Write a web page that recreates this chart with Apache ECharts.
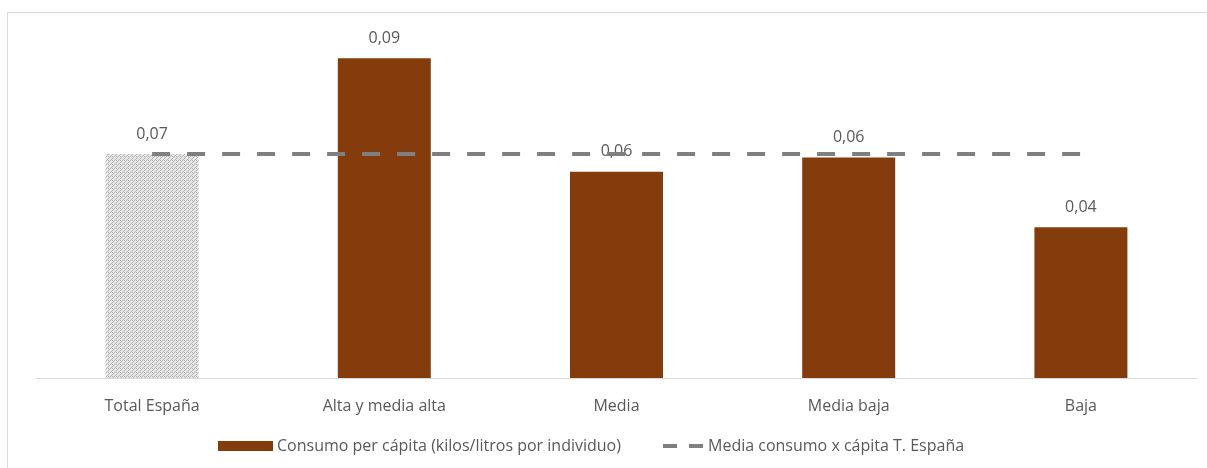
<!DOCTYPE html>
<html><head><meta charset="utf-8">
<script src="https://cdn.jsdelivr.net/npm/echarts@6/dist/echarts.min.js"></script>
<style>html,body{margin:0;padding:0;background:#fff}#c{width:1207px;height:468px}</style>
</head><body><div id="c"></div>
<script>
const categories = ['Total España', 'Alta y media alta', 'Media', 'Media baja', 'Baja'];
const consumo = [0.0655, 0.0935, 0.0603, 0.0645, 0.0441];
const mediaEspana = [0.0655, 0.0655, 0.0655, 0.0655, 0.0655];
const seriesNames = ['Consumo per cápita (kilos/litros por individuo)', 'Media consumo x cápita T. España'];

const FONT = '"Open Sans", "Liberation Sans", sans-serif';
function makePattern() {
  const c = document.createElement('canvas');
  c.width = 4; c.height = 4;
  const g = c.getContext('2d');
  g.fillStyle = '#e6e6e6'; g.fillRect(0, 0, 4, 4);
  g.fillStyle = '#b5b5b5';
  g.fillRect(0, 0, 1, 1);
  g.fillRect(2, 0, 1, 1);
  g.fillRect(0, 2, 1, 1);
  g.fillRect(1, 1, 1, 1);
  g.fillRect(3, 3, 1, 1);
  return c;
}
const chart = echarts.init(document.getElementById('c'));
const barData = consumo.map((v, i) => i === 0 ? { value: v, itemStyle: { color: { image: makePattern(), repeat: 'repeat' } } } : v);
chart.setOption({
  animation: false,
  textStyle: { fontFamily: FONT },
  graphic: [{ type: 'rect', shape: { x: 7.5, y: 12.5, width: 1220, height: 480 }, style: { fill: 'none', stroke: '#d9d9d9', lineWidth: 1 }, silent: true }],
  grid: { left: 36, right: 10, top: 36, bottom: 90 },
  legend: [
    { data: [{ name: seriesNames[0], icon: 'rect' }], left: 213, top: 433, itemWidth: 55, itemHeight: 10, itemGap: 0,
      textStyle: { color: '#595959', fontSize: 16, fontFamily: FONT, padding: [0, 0, 0, -1] } },
    { data: [seriesNames[1]], left: 656, top: 433, itemWidth: 40, itemHeight: 10,
      lineStyle: { type: [14, 12], width: 4 },
      itemStyle: { color: 'rgba(0,0,0,0)', borderWidth: 0 },
      textStyle: { color: '#595959', fontSize: 16, fontFamily: FONT } }
  ],
  xAxis: {
    type: 'category', data: categories,
    axisLine: { lineStyle: { color: '#d9d9d9', width: 1 } },
    axisTick: { show: false },
    axisLabel: { color: '#595959', fontSize: 16, margin: 20, fontFamily: FONT }
  },
  yAxis: { type: 'value', min: 0, max: 0.1, show: false, splitLine: { show: false } },
  series: [
    { name: seriesNames[0], type: 'bar', data: barData, barWidth: 93,
      itemStyle: { color: '#843c0c' },
      label: { show: true, position: 'top', distance: 12, color: '#595959', fontSize: 16, fontFamily: FONT,
        formatter: p => p.value.toFixed(2).replace('.', ',') } },
    { name: seriesNames[1], type: 'line', data: mediaEspana, symbol: 'none', z: 5,
      lineStyle: { color: '#7f7f7f', width: 4, type: [18, 17] }, itemStyle: { color: '#7f7f7f' } }
  ]
});
</script></body></html>
